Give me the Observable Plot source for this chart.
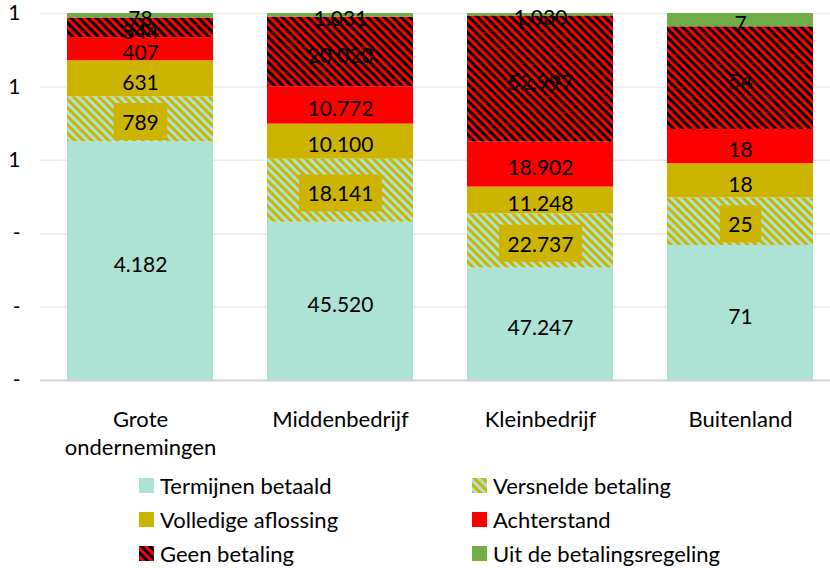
<!DOCTYPE html>
<html><head><meta charset="utf-8">
<script src="https://cdn.jsdelivr.net/npm/d3@7"></script>
<script src="https://cdn.jsdelivr.net/npm/@observablehq/plot@0.6"></script>
<style>
body{margin:0;background:#fff;font-family:Lato,"Liberation Sans",sans-serif;}
#legend{display:grid;grid-template-columns:333px 330px;margin-left:139px;}
.item{display:flex;align-items:center;height:34px;font-size:22px;color:#000;white-space:nowrap}
.item svg{margin-right:6px;flex:none}
</style></head><body>
<svg width="0" height="0" style="position:absolute"><defs>
<pattern id="pGeen" patternUnits="userSpaceOnUse" width="6" height="6" patternTransform="rotate(-45)">
<rect width="6" height="6" fill="#FF0000"/><rect width="3" height="6" fill="#000000"/>
</pattern>
<pattern id="pVers" patternUnits="userSpaceOnUse" width="6" height="6" patternTransform="rotate(-45)">
<rect width="6" height="6" fill="#ADE3D4"/><rect width="3" height="6" fill="#CCB400"/>
</pattern>
</defs></svg>
<div id="chart"></div><div id="legend"></div>
<script>
const categories = ["Grote ondernemingen", "Middenbedrijf", "Kleinbedrijf", "Buitenland"];
const xLabels = ["Grote\nondernemingen", "Middenbedrijf", "Kleinbedrijf", "Buitenland"];
const series = ["Termijnen betaald", "Versnelde betaling", "Volledige aflossing", "Achterstand", "Geen betaling", "Uit de betalingsregeling"];
const termijnen = [4182, 45520, 47247, 71];
const versnelde = [789, 18141, 22737, 25];
const volledige = [631, 10100, 11248, 18];
const achterstand = [407, 10772, 18902, 18];
const geen = [344, 20020, 52997, 54];
const uit = [78, 1031, 1030, 7];
const yTicks = [0, 0.2, 0.4, 0.6, 0.8, 1];
const yTickLabels = ["-", "-", "-", "1", "1", "1"];
const fills = ["#ADE3D4", "url(#pVers)", "#CCB400", "#FF0000", "url(#pGeen)", "#70AD47"];
const legendOrder = [0, 1, 2, 3, 4, 5];

const valuesBySeries = [termijnen, versnelde, volledige, achterstand, geen, uit];
const rows = [];
series.forEach((s, si) => categories.forEach((c, ci) => rows.push({cat: c, series: s, value: valuesBySeries[si][ci]})));

const fmt = d3.formatLocale({decimal: ",", thousands: ".", grouping: [3], currency: ["€", ""]}).format(",");
const font = 'Lato, "Liberation Sans", sans-serif';

const plot = Plot.plot({
  width: 830, height: 468,
  marginLeft: 40, marginRight: 0, marginTop: 13, marginBottom: 88,
  x: {domain: categories, range: [40, 840], paddingInner: 0.27, paddingOuter: 0.135, align: 0.5, axis: null, label: null},
  y: {domain: [0, 1], axis: null, label: null},
  color: {domain: series, range: fills},
  style: {fontFamily: font, fontSize: "22px", overflow: "visible", color: "#000"},
  marks: [
    Plot.gridY(yTicks, {stroke: "#ebebeb", strokeOpacity: 1, strokeWidth: 1.5}),
    Plot.barY(rows, Plot.stackY({offset: "normalize", x: "cat", y: "value", fill: "series"})),
    Plot.ruleY([0], {stroke: "#d4d4d4", strokeWidth: 2}),
    Plot.axisY(yTicks, {tickSize: 0, tickPadding: 20, label: null, tickFormat: d => yTickLabels[yTicks.indexOf(d)], fontSize: 21, fill: "#000"}),
    Plot.axisX(categories, {tickSize: 0, tickPadding: 27, label: null, tickFormat: d => xLabels[categories.indexOf(d)], fontSize: 22, lineHeight: 1.27, fill: "#000"}),
    Plot.text(rows, Plot.stackY({offset: "normalize", x: "cat", y: "value", z: "series", dy: 4,
      text: d => d.series === series[1] ? null : fmt(d.value), fill: "#000", fontSize: 21})),
    Plot.text(rows, Plot.stackY({offset: "normalize", x: "cat", y: "value", z: "series", dy: 4,
      text: d => d.series === series[1] ? fmt(d.value) : null, fill: "#000", fontSize: 21}))
  ]
});
document.getElementById("chart").append(plot);

// label background boxes behind "Versnelde betaling" values (last text mark)
const textGroups = plot.querySelectorAll('g[aria-label="text"]');
const versGroup = textGroups[textGroups.length - 1];
versGroup.querySelectorAll("text").forEach(t => {
  const b = t.getBBox();
  const cy = b.y + b.height / 2;
  const r = document.createElementNS("http://www.w3.org/2000/svg", "rect");
  r.setAttribute("x", b.x - 8.5);
  r.setAttribute("y", cy - 18.5);
  r.setAttribute("width", b.width + 17);
  r.setAttribute("height", 37);
  r.setAttribute("fill", fills[2]);
  if (t.getAttribute("transform")) r.setAttribute("transform", t.getAttribute("transform"));
  t.parentNode.insertBefore(r, t);
});

const legend = document.getElementById("legend");
legendOrder.forEach(i => {
  const item = document.createElement("div");
  item.className = "item";
  item.innerHTML = `<svg width="15" height="15"><rect width="15" height="15" fill="${fills[i]}"/></svg><span>${series[i]}</span>`;
  legend.append(item);
});
</script></body></html>
